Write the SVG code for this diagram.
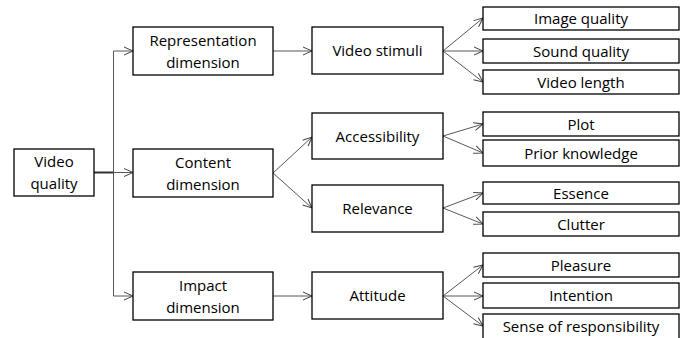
<svg xmlns="http://www.w3.org/2000/svg" width="688" height="338" viewBox="0 0 688 338">
<style>
.box{fill:#fff;stroke:#000;stroke-width:1.3}
.t{font-family:"Open Sans","Liberation Sans",sans-serif;font-size:15px;fill:#000;text-anchor:middle}
.c{fill:none;stroke:#444;stroke-width:0.9}
</style>
<defs>
<marker id="ah" viewBox="0 0 10 10" refX="10" refY="5" markerWidth="10" markerHeight="10" markerUnits="userSpaceOnUse" orient="auto">
<path d="M1,1 L10,5 L1,9" fill="none" stroke="#444" stroke-width="1"/>
</marker>
</defs>
<rect width="688" height="338" fill="#fff"/>
<g id="connectors">
<path d="M94,172.5 H113.5" fill="none" stroke="#333" stroke-width="2"/>
<path class="c" d="M113.5,51 V296"/>
<path class="c" d="M113.5,51 H133" marker-end="url(#ah)"/>
<path class="c" d="M113.5,172.5 H133" marker-end="url(#ah)"/>
<path class="c" d="M113.5,296 H133" marker-end="url(#ah)"/>
<path class="c" d="M273,51 H312" marker-end="url(#ah)"/>
<path class="c" d="M273,173 L312,137" marker-end="url(#ah)"/>
<path class="c" d="M273,173 L312,208" marker-end="url(#ah)"/>
<path class="c" d="M273,296 H312" marker-end="url(#ah)"/>
<path class="c" d="M443,51 L483,18" marker-end="url(#ah)"/>
<path class="c" d="M443,51 L483,51" marker-end="url(#ah)"/>
<path class="c" d="M443,51 L483,82" marker-end="url(#ah)"/>
<path class="c" d="M443,136 L483,124" marker-end="url(#ah)"/>
<path class="c" d="M443,136 L483,153" marker-end="url(#ah)"/>
<path class="c" d="M443,208 L483,193" marker-end="url(#ah)"/>
<path class="c" d="M443,208 L483,224" marker-end="url(#ah)"/>
<path class="c" d="M443,296 L483,265" marker-end="url(#ah)"/>
<path class="c" d="M443,296 L483,296" marker-end="url(#ah)"/>
<path class="c" d="M443,296 L483,326" marker-end="url(#ah)"/>
</g>
<g id="video-quality"><rect class="box" x="14" y="149" width="80" height="47"/><text class="t" x="54" y="167">Video</text><text class="t" x="54" y="189">quality</text></g>
<g id="representation"><rect class="box" x="133" y="27" width="140" height="48"/><text class="t" x="203" y="45.5">Representation</text><text class="t" x="203" y="67.5">dimension</text></g>
<g id="content"><rect class="box" x="133" y="149" width="140" height="48"/><text class="t" x="203" y="167.5">Content</text><text class="t" x="203" y="189.5">dimension</text></g>
<g id="impact"><rect class="box" x="133" y="272" width="140" height="48"/><text class="t" x="203" y="290.5">Impact</text><text class="t" x="203" y="312.5">dimension</text></g>
<g id="video-stimuli"><rect class="box" x="312" y="27" width="131" height="47"/><text class="t" x="377.5" y="56">Video stimuli</text></g>
<g id="accessibility"><rect class="box" x="312" y="113" width="131" height="46"/><text class="t" x="377.5" y="141.5">Accessibility</text></g>
<g id="relevance"><rect class="box" x="312" y="185" width="131" height="47"/><text class="t" x="377.5" y="213.5">Relevance</text></g>
<g id="attitude"><rect class="box" x="312" y="272" width="131" height="47"/><text class="t" x="377.5" y="300.5">Attitude</text></g>
<g id="image-quality"><rect class="box" x="483" y="7" width="196" height="23"/><text class="t" x="581" y="24">Image quality</text></g>
<g id="sound-quality"><rect class="box" x="483" y="39" width="196" height="24"/><text class="t" x="581" y="56.5">Sound quality</text></g>
<g id="video-length"><rect class="box" x="483" y="70" width="196" height="24"/><text class="t" x="581" y="87.5">Video length</text></g>
<g id="plot"><rect class="box" x="483" y="112" width="196" height="24"/><text class="t" x="581" y="129.5">Plot</text></g>
<g id="prior-knowledge"><rect class="box" x="483" y="140" width="196" height="26"/><text class="t" x="581" y="158.5">Prior knowledge</text></g>
<g id="essence"><rect class="box" x="483" y="182" width="196" height="22"/><text class="t" x="581" y="198.5">Essence</text></g>
<g id="clutter"><rect class="box" x="483" y="212" width="196" height="24"/><text class="t" x="581" y="229.5">Clutter</text></g>
<g id="pleasure"><rect class="box" x="483" y="253" width="196" height="24"/><text class="t" x="581" y="270.5">Pleasure</text></g>
<g id="intention"><rect class="box" x="483" y="283" width="196" height="25"/><text class="t" x="581" y="301">Intention</text></g>
<g id="sense"><rect class="box" x="483" y="314" width="196" height="30"/><text class="t" x="581" y="332">Sense of responsibility</text></g>
</svg>
